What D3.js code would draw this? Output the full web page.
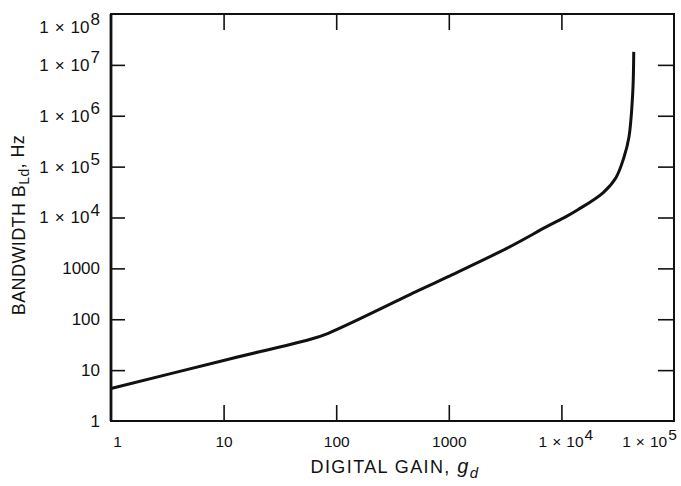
<!DOCTYPE html>
<html>
<head>
<meta charset="utf-8">
<script src="https://cdn.jsdelivr.net/npm/d3@7"></script>
<style>
  html, body { margin: 0; padding: 0; background: #fff; }
  svg { display: block; }
  text { font-family: "Liberation Sans", Arial, Helvetica, sans-serif; fill: #111; }
</style>
</head>
<body>
<svg id="chart" width="681" height="486"></svg>
<script>
// Loop bandwidth versus digital gain (log-log)
const gain      = [1, 10, 59, 85, 528, 975, 3300, 7400, 11000, 14000, 23400, 30500, 35900, 39800, 43000, 43900];
const bandwidth = [4.35, 15.5, 40.5, 53, 360, 680, 2500, 6600, 10400, 14200, 30600, 60700, 151000, 380000, 2.8e6, 1.8e7];

const xTickValues = [1, 10, 100, 1000, 1e4, 1e5];
const xTickLabels = [["1"], ["10"], ["100"], ["1000"], ["1", "×", "10", "4"], ["1", "×", "10", "5"]];
const yTickValues = [1, 10, 100, 1000, 1e4, 1e5, 1e6, 1e7, 1e8];
const yTickLabels = [["1"], ["10"], ["100"], ["1000"], ["1", "×", "10", "4"], ["1", "×", "10", "5"],
                     ["1", "×", "10", "6"], ["1", "×", "10", "7"], ["1", "×", "10", "8"]];

const xTitle = ["DIGITAL GAIN, ", "g", "d"];
const yTitle = ["BANDWIDTH B", "Ld", ", Hz"];

const svg = d3.select("#chart");
const L = 111, R = 674, T = 14, B = 421;

const x = d3.scaleLog().domain([1, 1e5]).range([L, R]);
const y = d3.scaleLog().domain([1, 1e8]).range([B, T]);

// write a tick label; "1 × 10ⁿ" labels get spaced parts and a raised exponent
function fillLabel(sel, parts, gap) {
  sel.text(null);
  if (parts.length === 1) { sel.text(parts[0]); return; }
  sel.append("tspan").text(parts[0]);
  sel.append("tspan").attr("dx", gap).text(parts[1]);
  sel.append("tspan").attr("dx", gap).text(parts[2]);
  sel.append("tspan").attr("dx", 1).attr("dy", "-0.45em").text(parts[3]);
}

// inner ticks on all four sides
const inner = [10, 100, 1000, 1e4];
const innerY = [10, 100, 1000, 1e4, 1e5, 1e6, 1e7];

svg.append("g").attr("transform", `translate(0,${T})`)
  .call(d3.axisTop(x).tickValues(inner).tickSizeInner(-16).tickSizeOuter(0).tickFormat(""))
  .call(g => g.select(".domain").remove())
  .call(g => g.selectAll("line").attr("stroke", "#111").attr("stroke-width", 1.6));

svg.append("g").attr("transform", `translate(${R},0)`)
  .call(d3.axisRight(y).tickValues(innerY).tickSizeInner(-16).tickSizeOuter(0).tickFormat(""))
  .call(g => g.select(".domain").remove())
  .call(g => g.selectAll("line").attr("stroke", "#111").attr("stroke-width", 1.6));

const xAxis = svg.append("g").attr("transform", `translate(0,${B})`)
  .call(d3.axisBottom(x).tickValues(xTickValues).tickSizeInner(-16).tickSizeOuter(0).tickPadding(15))
  .call(g => g.select(".domain").remove());
xAxis.selectAll(".tick line")
  .attr("stroke", d => (d === 1 || d === 1e5) ? "none" : "#111").attr("stroke-width", 1.6);
xAxis.selectAll(".tick text")
  .attr("fill", "#111").attr("font-size", 15.5).style("font-size", "15.5px")
  .attr("font-family", "Liberation Sans, Arial, sans-serif")
  .each(function(d, i) {
    const t = d3.select(this);
    fillLabel(t, xTickLabels[i], 5);
    if (d === 1) t.attr("x", 6);
    if (d === 1e4) t.attr("x", 4);
    if (d === 1e5) t.attr("x", -25);
  });

const yAxis = svg.append("g").attr("transform", `translate(${L},0)`)
  .call(d3.axisLeft(y).tickValues(yTickValues).tickSizeInner(-14).tickSizeOuter(0).tickPadding(11))
  .call(g => g.select(".domain").remove());
yAxis.selectAll(".tick line")
  .attr("stroke", d => (d === 1 || d === 1e8) ? "none" : "#111").attr("stroke-width", 1.6);
yAxis.selectAll(".tick text")
  .attr("fill", "#111").attr("font-size", 17).style("font-size", "17px")
  .attr("font-family", "Liberation Sans, Arial, sans-serif")
  .each(function(d, i) {
    const t = d3.select(this);
    fillLabel(t, yTickLabels[i], 6);
    if (d === 1e8) t.attr("y", 13);
  });

// frame
svg.append("rect")
  .attr("x", L).attr("y", T).attr("width", R - L).attr("height", B - T)
  .attr("fill", "none").attr("stroke", "#111").attr("stroke-width", 2);
svg.append("line")
  .attr("x1", L).attr("x2", L).attr("y1", T).attr("y2", B)
  .attr("stroke", "#111").attr("stroke-width", 2.8);

// bandwidth curve
const pts = gain.map((g, i) => [g, bandwidth[i]]);
const line = d3.line()
  .x(d => x(d[0])).y(d => y(d[1]))
  .curve(d3.curveCatmullRom.alpha(0.5));
svg.append("path")
  .datum(pts)
  .attr("d", line)
  .attr("fill", "none")
  .attr("stroke", "#111")
  .attr("stroke-width", 3)
  .attr("stroke-linejoin", "round")
  .attr("stroke-linecap", "butt");

// axis titles
const xt = svg.append("text")
  .attr("x", 395).attr("y", 473)
  .attr("text-anchor", "middle")
  .style("font-size", "18px")
  .style("letter-spacing", "1.4px");
xt.append("tspan").text(xTitle[0]);
xt.append("tspan").style("font-style", "italic").style("font-size", "20px").text(xTitle[1]);
xt.append("tspan").attr("dy", "0.3em").style("font-style", "italic").style("font-size", "15px").text(xTitle[2]);

const yt = svg.append("text")
  .attr("transform", "translate(25,225) rotate(-90)")
  .attr("text-anchor", "middle")
  .style("font-size", "18px")
  .style("letter-spacing", "0.4px");
yt.append("tspan").text(yTitle[0]);
yt.append("tspan").attr("dy", "0.3em").style("font-size", "14px").text(yTitle[1]);
yt.append("tspan").attr("dy", "-0.3em").text(yTitle[2]);
</script>
</body>
</html>
